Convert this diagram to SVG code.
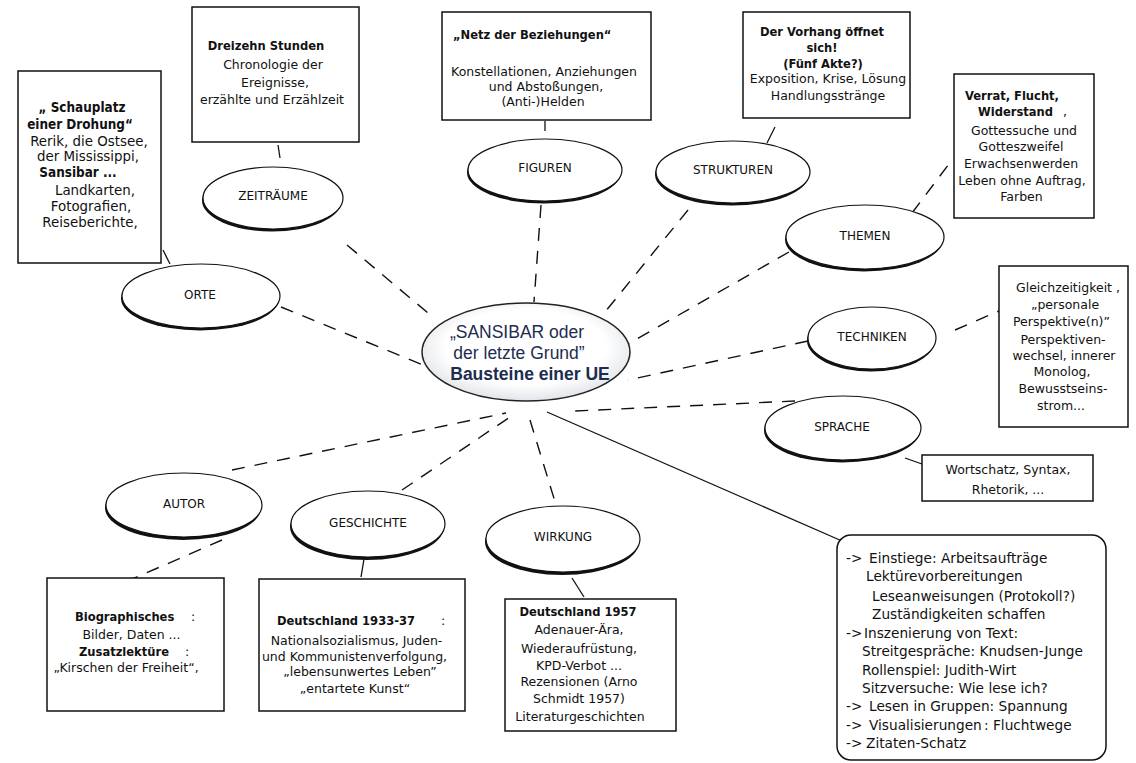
<svg xmlns="http://www.w3.org/2000/svg" width="1136" height="763" viewBox="0 0 1136 763">
<style>
text{font-family:"DejaVu Sans","Liberation Sans",sans-serif;font-size:12.5px;fill:#111;text-anchor:middle}
.b{font-family:"DejaVu Sans Condensed","DejaVu Sans",sans-serif;font-weight:bold;font-size:12.8px}
.s{text-anchor:start}
.big,.big.b{font-size:13.4px}
.rb{font-size:13.7px;text-anchor:start}
.lbl{font-size:12px}
.ctr{font-family:"Liberation Sans",Arial,sans-serif;font-size:17.5px;fill:#1c2d4f}
.ctr.b{font-family:"Liberation Sans",Arial,sans-serif;font-size:17.5px}
.box{fill:#fff;stroke:#111;stroke-width:1.5}
.sh{fill:#111}
.el{fill:#fff;stroke:#111;stroke-width:1.2}
.dash{fill:none;stroke:#111;stroke-width:1.4;stroke-dasharray:13 10}
.solid{fill:none;stroke:#111;stroke-width:1.3}
</style>
<defs>
<radialGradient id="cg" cx="50%" cy="45%" r="55%">
<stop offset="0.7" stop-color="#ffffff"/>
<stop offset="1" stop-color="#e2e4e8"/>
</radialGradient>
</defs>
<rect width="1136" height="763" fill="#fff"/>

<g id="connectors">
<path class="dash" d="M281,307 L428,367"/>
<path class="dash" d="M347,245 L434,318"/>
<path class="dash" d="M541,205 L534,302"/>
<path class="dash" d="M688,210 L605,312"/>
<path class="dash" d="M789,252 L628,344"/>
<path class="dash" d="M808,341 L628,380"/>
<path class="dash" d="M795,401 L575,411"/>
<path class="dash" d="M232,470 L506,413"/>
<path class="dash" d="M402,490 L510,417"/>
<path class="dash" d="M530,420 L556,505"/>
<path class="solid" d="M547,412 L842,541"/>
<path class="solid" d="M278,145 L280,158"/>
<path class="solid" d="M545,121 L545,131"/>
<path class="solid" d="M775,127 L767,143"/>
<path class="dash" d="M912,213 L952,160"/>
<path class="dash" d="M955,330 L999,311"/>
<path class="solid" d="M905,458 L922,464"/>
<path class="solid" d="M163,250 L170,264"/>
<path class="dash" d="M222,540 L130,580"/>
<path class="solid" d="M364,559 L361,577"/>
<path class="solid" d="M572,578 L584,597"/>
</g>

<g id="center">
<ellipse cx="526" cy="352" rx="104" ry="49" fill="url(#cg)" stroke="#222" stroke-width="1.5"/>
<text class="ctr" x="517" y="338">„SANSIBAR oder</text>
<text class="ctr" x="519" y="359">der letzte Grund”</text>
<text class="ctr b" x="530" y="380">Bausteine einer UE</text>
</g>

<g id="zeitraeume">
<ellipse class="sh" cx="272" cy="200.5" rx="70" ry="31"/>
<ellipse class="el" cx="273" cy="198" rx="70" ry="31"/>
<text class="lbl" x="273" y="200">ZEITRÄUME</text>
</g>
<g id="figuren">
<ellipse class="sh" cx="544" cy="172.5" rx="77" ry="31"/>
<ellipse class="el" cx="545" cy="170" rx="77" ry="31"/>
<text class="lbl" x="545" y="172">FIGUREN</text>
</g>
<g id="strukturen">
<ellipse class="sh" cx="732" cy="174.5" rx="77" ry="31"/>
<ellipse class="el" cx="733" cy="172" rx="77" ry="31"/>
<text class="lbl" x="733" y="174">STRUKTUREN</text>
</g>
<g id="themen">
<ellipse class="sh" cx="864" cy="239.5" rx="79" ry="32"/>
<ellipse class="el" cx="865" cy="237" rx="79" ry="32"/>
<text class="lbl" x="865" y="240">THEMEN</text>
</g>
<g id="orte">
<ellipse class="sh" cx="200" cy="298.5" rx="79" ry="32"/>
<ellipse class="el" cx="201" cy="296" rx="79" ry="32"/>
<text class="lbl" x="200" y="299">ORTE</text>
</g>
<g id="techniken">
<ellipse class="sh" cx="871" cy="340.5" rx="64" ry="31"/>
<ellipse class="el" cx="872" cy="338" rx="64" ry="31"/>
<text class="lbl" x="872" y="341">TECHNIKEN</text>
</g>
<g id="sprache">
<ellipse class="sh" cx="842" cy="430.5" rx="78" ry="32"/>
<ellipse class="el" cx="843" cy="428" rx="78" ry="32"/>
<text class="lbl" x="842" y="431">SPRACHE</text>
</g>
<g id="autor">
<ellipse class="sh" cx="183" cy="508" rx="78" ry="32"/>
<ellipse class="el" cx="184" cy="505" rx="78" ry="32"/>
<text class="lbl" x="184" y="508">AUTOR</text>
</g>
<g id="geschichte">
<ellipse class="sh" cx="367" cy="527" rx="77" ry="33"/>
<ellipse class="el" cx="368" cy="524" rx="77" ry="33"/>
<text class="lbl" x="368" y="527">GESCHICHTE</text>
</g>
<g id="wirkung">
<ellipse class="sh" cx="562" cy="542" rx="77" ry="33"/>
<ellipse class="el" cx="563" cy="539" rx="77" ry="33"/>
<text class="lbl" x="563" y="541">WIRKUNG</text>
</g>

<g id="box-orte">
<rect class="box" x="18" y="71" width="143" height="192"/>
<text class="big b" x="82" y="112">„ Schauplatz</text>
<text class="big b" x="80" y="129">einer Drohung“</text>
<text class="big" x="89" y="145.5">Rerik, die Ostsee,</text>
<text class="big" x="88" y="161">der Mississippi,</text>
<text class="big b" x="78" y="176.5">Sansibar ...</text>
<text class="big" x="95" y="194.5">Landkarten,</text>
<text class="big" x="91" y="211">Fotografien,</text>
<text class="big" x="90" y="226.5">Reiseberichte,</text>
</g>

<g id="box-zeit">
<rect class="box" x="192" y="7" width="167" height="135"/>
<text class="b" x="266" y="50">Dreizehn Stunden</text>
<text x="273" y="69">Chronologie der</text>
<text x="275" y="87">Ereignisse,</text>
<text x="272" y="104">erzählte und Erzählzeit</text>
</g>

<g id="box-figuren">
<rect class="box" x="442" y="12" width="209" height="108"/>
<text class="b s" x="453" y="39">„Netz der Beziehungen“</text>
<text x="544" y="76">Konstellationen, Anziehungen</text>
<text x="546" y="91">und Abstoßungen,</text>
<text x="543" y="106">(Anti-)Helden</text>
</g>

<g id="box-strukturen">
<rect class="box" x="743" y="12" width="167" height="106"/>
<text class="b" x="822" y="36">Der Vorhang öffnet</text>
<text class="b" x="822" y="52">sich!</text>
<text class="b" x="823" y="68">(Fünf Akte?)</text>
<text x="828" y="83">Exposition, Krise, Lösung</text>
<text x="828" y="100">Handlungsstränge</text>
</g>

<g id="box-themen">
<rect class="box" x="954" y="74" width="140" height="144"/>
<text class="b" x="1012" y="100">Verrat, Flucht,</text>
<text class="s" x="978" y="116"><tspan class="b">Widerstand</tspan><tspan x="1063">,</tspan></text>
<text x="1024" y="135">Gottessuche und</text>
<text x="1021" y="151">Gotteszweifel</text>
<text x="1021" y="168">Erwachsenwerden</text>
<text x="1022" y="184.5">Leben ohne Auftrag,</text>
<text x="1021.5" y="201">Farben</text>
</g>

<g id="box-techniken">
<rect class="box" x="999" y="266" width="129" height="161"/>
<text x="1068" y="291.5">Gleichzeitigkeit ,</text>
<text x="1065" y="309">„personale</text>
<text x="1061.5" y="326">Perspektive(n)”</text>
<text x="1063" y="344">Perspektiven-</text>
<text x="1064" y="360">wechsel, innerer</text>
<text x="1062" y="376">Monolog,</text>
<text x="1063" y="393">Bewusstseins-</text>
<text x="1061" y="410">strom...</text>
</g>

<g id="box-sprache">
<rect class="box" x="922" y="455" width="171" height="46"/>
<text x="1008" y="474">Wortschatz, Syntax,</text>
<text x="1008" y="494">Rhetorik, ...</text>
</g>

<g id="box-autor">
<rect class="box" x="47" y="578" width="177" height="133"/>
<text class="s" x="75" y="621"><tspan class="b">Biographisches</tspan><tspan x="191">:</tspan></text>
<text x="131.5" y="639">Bilder, Daten ...</text>
<text class="s" x="79" y="656"><tspan class="b">Zusatzlektüre</tspan><tspan x="185">:</tspan></text>
<text x="126" y="672">„Kirschen der Freiheit“,</text>
</g>

<g id="box-geschichte">
<rect class="box" x="259" y="579" width="206" height="132"/>
<text class="s" x="277" y="624.5"><tspan class="b">Deutschland 1933-37</tspan><tspan x="441">:</tspan></text>
<text x="356.5" y="644.5">Nationalsozialismus, Juden-</text>
<text x="354.5" y="660.5">und Kommunistenverfolgung,</text>
<text x="360" y="676">„lebensunwertes Leben”</text>
<text x="355" y="692.5">„entartete Kunst“</text>
</g>

<g id="box-wirkung">
<rect class="box" x="505" y="599" width="171" height="132"/>
<text class="b" x="578" y="616">Deutschland 1957</text>
<text x="579" y="634">Adenauer-Ära,</text>
<text x="579" y="652.5">Wiederaufrüstung,</text>
<text x="579" y="669.5">KPD-Verbot ...</text>
<text x="579" y="686">Rezensionen (Arno</text>
<text x="579" y="703">Schmidt 1957)</text>
<text x="580" y="720.5">Literaturgeschichten</text>
</g>

<g id="box-methoden">
<rect class="box" x="837" y="535" width="269" height="225" rx="14"/>
<text class="rb" x="846" y="563">-&gt;<tspan x="869">Einstiege: Arbeitsaufträge</tspan></text>
<text class="rb" x="866" y="581">Lektürevorbereitungen</text>
<text class="rb" x="872" y="600.5">Leseanweisungen (Protokoll?)</text>
<text class="rb" x="872" y="618.5">Zuständigkeiten schaffen</text>
<text class="rb" x="846" y="637.5">-&gt;<tspan x="864">Inszenierung von Text:</tspan></text>
<text class="rb" x="862" y="656">Streitgespräche: Knudsen-Junge</text>
<text class="rb" x="862" y="674.5">Rollenspiel: Judith-Wirt</text>
<text class="rb" x="862" y="692.5">Sitzversuche: Wie lese ich?</text>
<text class="rb" x="846" y="711">-&gt;<tspan x="869">Lesen in Gruppen: Spannung</tspan></text>
<text class="rb" x="846" y="729.5">-&gt;<tspan x="869">Visualisierungen</tspan><tspan x="984">: Fluchtwege</tspan></text>
<text class="rb" x="846" y="748">-&gt;<tspan x="866">Zitaten-Schatz</tspan></text>
</g>
</svg>
